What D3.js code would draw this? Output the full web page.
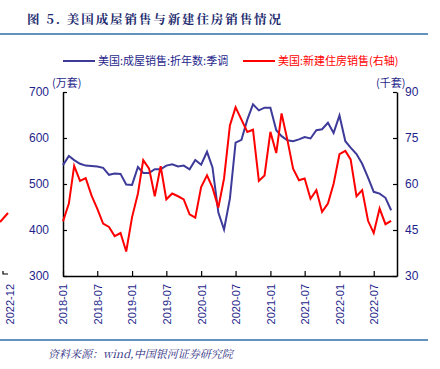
<!DOCTYPE html>
<html>
<head>
<meta charset="utf-8">
<script src="https://cdn.jsdelivr.net/npm/d3@7"></script>
<style>
  body { margin: 0; background: #fff; }
  svg { display: block; font-family: "Noto Sans CJK SC", "Noto Sans", sans-serif; }
</style>
</head>
<body>
<script>
// monthly data, 2018-01 .. 2022-10
var startMonth = "2018-01";
var existingSales = [541, 561, 552, 544, 540, 539, 538, 535, 520, 523, 522, 499,
    498, 537, 524, 524, 532, 532, 540, 543, 538, 540, 532, 552,
    542, 570, 536, 438, 401, 468, 590, 596, 640, 673, 660, 666,
    666, 617, 604, 595, 593, 597, 602, 599, 617, 619, 633, 611,
    649, 593, 579, 565, 544, 514, 483, 479, 470, 443];
var newSales = [47.8, 53.6, 65.9, 61, 61.9, 56.2, 52, 47.1, 46, 43, 44, 38,
    49.2, 56.9, 67.8, 65, 56, 65.8, 55, 56.9, 56, 55, 50.1, 49,
    59, 62.8, 58.8, 52.3, 61.8, 79.1, 85, 81, 77, 77.7, 61, 62.8,
    77, 70.1, 83, 74.3, 65, 61.2, 61.8, 55.2, 58, 50.9, 53.6, 60.1,
    69.7, 70.8, 68, 56, 58, 48, 44, 52, 46.9, 48];
var leftTicks = [300, 400, 500, 600, 700];
var rightTicks = [30, 45, 60, 75, 90];
var xTickLabels = ["2018-01", "2018-07", "2019-01", "2019-07", "2020-01",
    "2020-07", "2021-01", "2021-07", "2022-01", "2022-07"];

var parseMonth = d3.timeParse("%Y-%m");
var fmtMonth = d3.timeFormat("%Y-%m");
var t0 = parseMonth(startMonth);
var months = existingSales.map(function(d, i) { return d3.timeMonth.offset(t0, i); });

var W = 440, H = 369;
var navy = "#1f1f8c";
var svg = d3.select("body").append("svg").attr("width", W).attr("height", H);

// title + rules
svg.append("text").attr("x", 27).attr("y", 24)
    .attr("font-size", 12.5).attr("font-weight", "bold").attr("fill", "#1c2a6e")
    .attr("font-family", "'Noto Serif CJK SC', 'Noto Sans CJK SC', serif")
    .attr("letter-spacing", 1.9)
    .text("图 5. 美国成屋销售与新建住房销售情况");
svg.append("line").attr("x1", 0).attr("x2", 428).attr("y1", 34).attr("y2", 34)
    .attr("stroke", "#2f6ea6").attr("stroke-width", 1.5);
svg.append("line").attr("x1", 0).attr("x2", 428).attr("y1", 340).attr("y2", 340)
    .attr("stroke", "#2f6ea6").attr("stroke-width", 1.5);
svg.append("text").attr("x", 48).attr("y", 358)
    .attr("font-size", 11).attr("font-style", "italic").attr("fill", "#2a2a80")
    .attr("font-family", "'Noto Serif CJK SC', 'DejaVu Serif', serif")
    .text("资料来源：wind,中国银河证券研究院");

// leftover piece of the neighbouring chart at the left edge
svg.append("path").attr("d", "M0,222L8,213").attr("stroke", "#ff0000").attr("stroke-width", 2).attr("fill", "none");
svg.append("path").attr("d", "M3,271V274H8").attr("stroke", "#000").attr("stroke-width", 1.2).attr("fill", "none");
svg.append("text").attr("transform", "translate(14,284) rotate(-90)")
    .attr("text-anchor", "end").attr("font-size", 11).attr("fill", navy)
    .attr("font-family", "'Liberation Sans', Arial, sans-serif").text("2022-12");

// plot
var plotL = 63, plotR = 397, plotT = 92, plotB = 276;
var x = d3.scaleTime().domain([t0, d3.timeMonth.offset(t0, 58)]).range([plotL, plotR]);
var yL = d3.scaleLinear().domain([300, 700]).range([plotB, plotT]);
var yR = d3.scaleLinear().domain([30, 90]).range([plotB, plotT]);

var xTicks = xTickLabels.map(parseMonth);

var gx = svg.append("g").attr("transform", "translate(0," + plotB + ")")
    .call(d3.axisBottom(x).tickValues(xTicks).tickFormat(fmtMonth).tickSizeInner(-5).tickSizeOuter(0));
gx.selectAll("text").attr("transform", "rotate(-90)")
    .attr("x", -8).attr("y", 0).attr("dy", "0.35em").style("text-anchor", "end");

var gl = svg.append("g").attr("transform", "translate(" + plotL + ",0)")
    .call(d3.axisLeft(yL).tickValues(leftTicks).tickSizeInner(-4).tickSizeOuter(0).tickPadding(14));
var gr = svg.append("g").attr("transform", "translate(" + plotR + ",0)")
    .call(d3.axisRight(yR).tickValues(rightTicks).tickSizeInner(-4).tickSizeOuter(0).tickPadding(8));

[gx, gl, gr].forEach(function(g) {
    g.selectAll(".domain").attr("stroke", "#000").attr("stroke-width", 1.5);
    g.selectAll(".tick line").attr("stroke", "#000").attr("stroke-width", 1.2);
    g.selectAll("text").attr("fill", navy).attr("font-size", 11)
        .attr("font-family", "'Liberation Sans', Arial, sans-serif");
});
gl.selectAll("text").attr("font-size", 12);
gr.selectAll("text").attr("font-size", 12);

svg.append("text").attr("x", 52).attr("y", 87).attr("font-size", 11).attr("fill", navy).text("(万套)");
svg.append("text").attr("x", 376).attr("y", 87).attr("font-size", 11).attr("fill", navy).text("(千套)");

var lineL = d3.line().x(function(d, i) { return x(months[i]); }).y(function(d) { return yL(d); });
var lineR = d3.line().x(function(d, i) { return x(months[i]); }).y(function(d) { return yR(d); });

svg.append("path").datum(existingSales).attr("d", lineL)
    .attr("fill", "none").attr("stroke", "#3d3a9a").attr("stroke-width", 2);
svg.append("path").datum(newSales).attr("d", lineR)
    .attr("fill", "none").attr("stroke", "#ff0000").attr("stroke-width", 2);

// legend
var legend = [
    { label: "美国:成屋销售:折年数:季调", color: "#3d3a9a", text: navy, x: 63 },
    { label: "美国:新建住房销售(右轴)", color: "#ff0000", text: "#ff0000", x: 243 }
];
legend.forEach(function(l) {
    svg.append("line").attr("x1", l.x).attr("x2", l.x + 32).attr("y1", 61).attr("y2", 61)
        .attr("stroke", l.color).attr("stroke-width", 2);
    svg.append("text").attr("x", l.x + 35).attr("y", 65).attr("font-size", 11)
        .attr("fill", l.text).text(l.label);
});
</script>
</body>
</html>
